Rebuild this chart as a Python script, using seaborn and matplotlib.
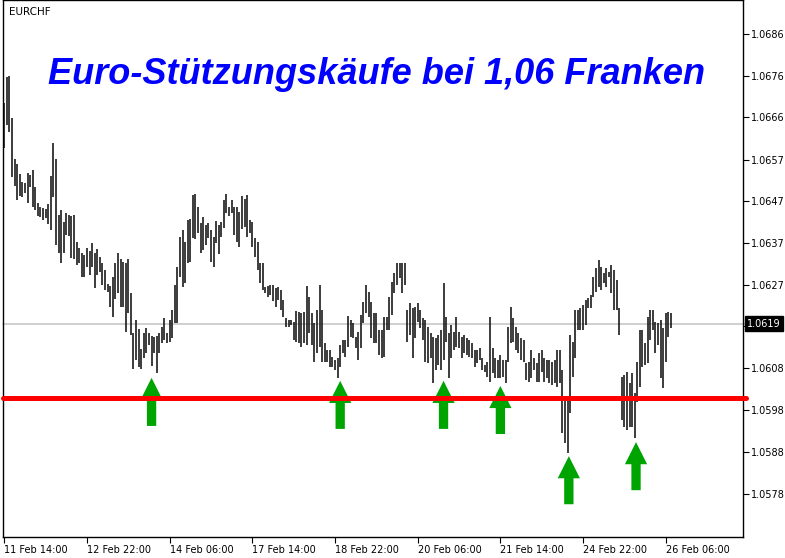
import numpy as np
import pandas as pd
import matplotlib
matplotlib.use("Agg")
import matplotlib.pyplot as plt
import matplotlib.transforms as mtransforms
import seaborn as sns

# hourly EURCHF bars, highs / lows
highs = [
  1.06698, 1.06759, 1.06761, 1.06663, 1.06566, 1.06555, 1.06531, 1.06512, 1.06510, 1.06533,
  1.06529, 1.06540, 1.06501, 1.06463, 1.06454, 1.06451, 1.06449, 1.06461, 1.06526, 1.06604,
  1.06566, 1.06435, 1.06446, 1.06418, 1.06439, 1.06435, 1.06432, 1.06435, 1.06371, 1.06357,
  1.06345, 1.06341, 1.06357, 1.06350, 1.06369, 1.06345, 1.06355, 1.06336, 1.06322, 1.06306,
  1.06273, 1.06268, 1.06289, 1.06322, 1.06345, 1.06331, 1.06324, 1.06322, 1.06331, 1.06251,
  1.06157, 1.06188, 1.06167, 1.06120, 1.06157, 1.06169, 1.06157, 1.06150, 1.06148, 1.06150,
  1.06157, 1.06172, 1.06193, 1.06157, 1.06188, 1.06212, 1.06270, 1.06313, 1.06383, 1.06399,
  1.06371, 1.06423, 1.06425, 1.06482, 1.06484, 1.06454, 1.06416, 1.06430, 1.06411, 1.06416,
  1.06399, 1.06383, 1.06421, 1.06411, 1.06418, 1.06470, 1.06484, 1.06454, 1.06470, 1.06454,
  1.06454, 1.06442, 1.06479, 1.06472, 1.06482, 1.06423, 1.06418, 1.06381, 1.06371, 1.06322,
  1.06322, 1.06266, 1.06268, 1.06270, 1.06270, 1.06263, 1.06266, 1.06259, 1.06235, 1.06193,
  1.06188, 1.06188, 1.06183, 1.06209, 1.06207, 1.06204, 1.06207, 1.06268, 1.06242, 1.06204,
  1.06181, 1.06212, 1.06270, 1.06212, 1.06134, 1.06118, 1.06118, 1.06101, 1.06094, 1.06099,
  1.06129, 1.06141, 1.06141, 1.06197, 1.06188, 1.06181, 1.06148, 1.06160, 1.06200, 1.06230,
  1.06270, 1.06254, 1.06230, 1.06204, 1.06204, 1.06164, 1.06164, 1.06195, 1.06195, 1.06242,
  1.06277, 1.06298, 1.06322, 1.06322, 1.06322, 1.06322, 1.06212, 1.06228, 1.06216, 1.06219,
  1.06228, 1.06212, 1.06193, 1.06188, 1.06172, 1.06157, 1.06148, 1.06146, 1.06153, 1.06164,
  1.06275, 1.06195, 1.06157, 1.06176, 1.06160, 1.06195, 1.06160, 1.06148, 1.06153, 1.06146,
  1.06141, 1.06134, 1.06118, 1.06118, 1.06122, 1.06099, 1.06082, 1.06089, 1.06195, 1.06122,
  1.06099, 1.06094, 1.06106, 1.06094, 1.06094, 1.06172, 1.06219, 1.06193, 1.06172, 1.06157,
  1.06146, 1.06141, 1.06087, 1.06089, 1.06118, 1.06099, 1.06087, 1.06110, 1.06118, 1.06099,
  1.06094, 1.06094, 1.06089, 1.06094, 1.06118, 1.06118, 1.06070, 1.06007, 1.06000, 1.06153,
  1.06136, 1.06212, 1.06212, 1.06216, 1.06223, 1.06235, 1.06240, 1.06247, 1.06289, 1.06310,
  1.06329, 1.06313, 1.06298, 1.06310, 1.06301, 1.06317, 1.06306, 1.06282, 1.06216, 1.06054,
  1.06059, 1.06066, 1.06040, 1.06063, 1.06016, 1.06089, 1.06164, 1.06164, 1.06134, 1.06195,
  1.06212, 1.06212, 1.06183, 1.06181, 1.06188, 1.06169, 1.06204, 1.06207, 1.06204]

lows = [
  1.06592, 1.06646, 1.06630, 1.06524, 1.06503, 1.06470, 1.06479, 1.06477, 1.06486, 1.06463,
  1.06501, 1.06454, 1.06446, 1.06432, 1.06430, 1.06423, 1.06428, 1.06414, 1.06399, 1.06477,
  1.06364, 1.06345, 1.06322, 1.06345, 1.06388, 1.06385, 1.06334, 1.06331, 1.06317, 1.06322,
  1.06289, 1.06289, 1.06313, 1.06294, 1.06313, 1.06263, 1.06294, 1.06301, 1.06270, 1.06259,
  1.06254, 1.06219, 1.06195, 1.06237, 1.06251, 1.06219, 1.06219, 1.06160, 1.06204, 1.06153,
  1.06073, 1.06094, 1.06078, 1.06073, 1.06099, 1.06110, 1.06129, 1.06080, 1.06110, 1.06063,
  1.06110, 1.06134, 1.06141, 1.06134, 1.06136, 1.06146, 1.06181, 1.06181, 1.06289, 1.06266,
  1.06275, 1.06322, 1.06324, 1.06381, 1.06378, 1.06392, 1.06345, 1.06353, 1.06364, 1.06381,
  1.06324, 1.06313, 1.06369, 1.06343, 1.06383, 1.06404, 1.06439, 1.06432, 1.06439, 1.06388,
  1.06371, 1.06360, 1.06402, 1.06407, 1.06383, 1.06392, 1.06360, 1.06336, 1.06306, 1.06275,
  1.06259, 1.06251, 1.06242, 1.06247, 1.06233, 1.06219, 1.06235, 1.06212, 1.06195, 1.06172,
  1.06172, 1.06176, 1.06141, 1.06136, 1.06134, 1.06125, 1.06134, 1.06129, 1.06157, 1.06129,
  1.06089, 1.06110, 1.06125, 1.06089, 1.06089, 1.06089, 1.06078, 1.06078, 1.06070, 1.06052,
  1.06078, 1.06110, 1.06101, 1.06125, 1.06148, 1.06146, 1.06122, 1.06094, 1.06122, 1.06181,
  1.06204, 1.06195, 1.06146, 1.06134, 1.06134, 1.06106, 1.06099, 1.06101, 1.06164, 1.06164,
  1.06200, 1.06251, 1.06270, 1.06287, 1.06251, 1.06270, 1.06136, 1.06153, 1.06099, 1.06146,
  1.06183, 1.06169, 1.06141, 1.06089, 1.06087, 1.06099, 1.06040, 1.06070, 1.06082, 1.06070,
  1.06094, 1.06136, 1.06052, 1.06099, 1.06118, 1.06125, 1.06122, 1.06099, 1.06110, 1.06106,
  1.06101, 1.06099, 1.06078, 1.06087, 1.06094, 1.06070, 1.06066, 1.06054, 1.06042, 1.06063,
  1.06052, 1.06052, 1.06052, 1.06054, 1.06040, 1.06089, 1.06134, 1.06136, 1.06118, 1.06110,
  1.06094, 1.06089, 1.06047, 1.06042, 1.06052, 1.06070, 1.06042, 1.06042, 1.06066, 1.06042,
  1.06052, 1.06040, 1.06035, 1.06040, 1.06031, 1.06040, 1.05922, 1.05899, 1.05875, 1.05969,
  1.06054, 1.06099, 1.06164, 1.06164, 1.06164, 1.06176, 1.06216, 1.06216, 1.06242, 1.06254,
  1.06266, 1.06259, 1.06275, 1.06266, 1.06289, 1.06251, 1.06212, 1.06212, 1.06153, 1.05953,
  1.05937, 1.05930, 1.05937, 1.05937, 1.05911, 1.05995, 1.06031, 1.06078, 1.06082, 1.06087,
  1.06141, 1.06164, 1.06110, 1.06129, 1.06052, 1.06028, 1.06089, 1.06148, 1.06169]

# time labels every 32 hourly bars
x_tick_bars = [0, 32, 64, 96, 128, 160, 192, 224, 256]
x_tick_labels = ["11 Feb 14:00", "12 Feb 22:00", "14 Feb 06:00", "17 Feb 14:00",
                 "18 Feb 22:00", "20 Feb 06:00", "21 Feb 14:00", "24 Feb 22:00",
                 "26 Feb 06:00"]

y_ticks = [1.0578, 1.05878, 1.05976, 1.06075, 1.06173, 1.06271, 1.06369,
           1.06467, 1.06565, 1.06664, 1.06762, 1.0686]
y_tick_labels = ["1.0578", "1.0588", "1.0598", "1.0608", "", "1.0627", "1.0637",
                 "1.0647", "1.0657", "1.0666", "1.0676", "1.0686"]

support_level = 1.06005
last_price = 1.06179
last_price_label = "1.0619"

# green arrows: bar position and tip price
arrow_bars = [57, 130, 170, 192, 218.5, 244.5]
arrow_tips = [1.06052, 1.06045, 1.06045, 1.06033, 1.05868, 1.05901]

title = "Euro-Stützungskäufe bei 1,06 Franken"
symbol = "EURCHF"

df = pd.DataFrame({"bar": np.arange(len(highs)), "high": highs, "low": lows})

sns.set_theme(style="white")
plt.rcParams["font.family"] = ["DejaVu Sans"]

fig = plt.figure(figsize=(7.85, 5.58), dpi=100)
ax = fig.add_axes([3 / 785, 21 / 558, 740 / 785, 537 / 558])

# current price line (behind bars)
ax.axhline(last_price, color="#cccccc", lw=1.3, zorder=0, xmax=1.004, clip_on=False)

ax.vlines(df["bar"], df["low"], df["high"], color="#111111", lw=1.15, zorder=2)

# arrows pointing up to the lows
for b, tip in zip(arrow_bars, arrow_tips):
  ax.arrow(b, tip - 0.00113, 0, 0.00113 - 0.00052, width=3.6, head_width=8.6,
           head_length=0.00052, length_includes_head=False,
           color="#00a400", lw=0, zorder=3)

# support line at 1.06
ax.axhline(support_level, color="#ff0000", lw=3.6, zorder=4, xmax=1.004, clip_on=False)

ax.set_xlim(-0.5, 285.9)
ax.set_ylim(1.05678, 1.0694)

ax.yaxis.tick_right()
ax.set_yticks(y_ticks)
ax.set_yticklabels(y_tick_labels)
ax.set_xticks(x_tick_bars)
ax.set_xticklabels(x_tick_labels, ha="left")
ax.tick_params(axis="both", direction="out", length=4, width=0.8, colors="black",
               labelsize=7, pad=2)
ax.tick_params(axis="y", right=True, left=False)
ax.tick_params(axis="x", bottom=True)

for s in ax.spines.values():
  s.set_color("black")
  s.set_linewidth(1.0)

trans = mtransforms.blended_transform_factory(ax.transAxes, ax.transData)
ax.text(1.006, last_price, last_price_label, transform=trans, color="white",
        fontsize=7, va="center", ha="left", zorder=6,
        bbox=dict(boxstyle="square,pad=0.25", fc="black", ec="black"))

ax.text(0.008, 0.977, symbol, transform=ax.transAxes, fontsize=7.5,
        color="black", va="center", ha="left")

ax.text(0.5047, 0.8436, title, transform=ax.transAxes, fontsize=26,
        fontweight="bold", fontstyle="italic", color="#0000ff",
        family=["Liberation Sans", "DejaVu Sans"], ha="center", va="baseline")

fig.savefig("out.png", dpi=100)
